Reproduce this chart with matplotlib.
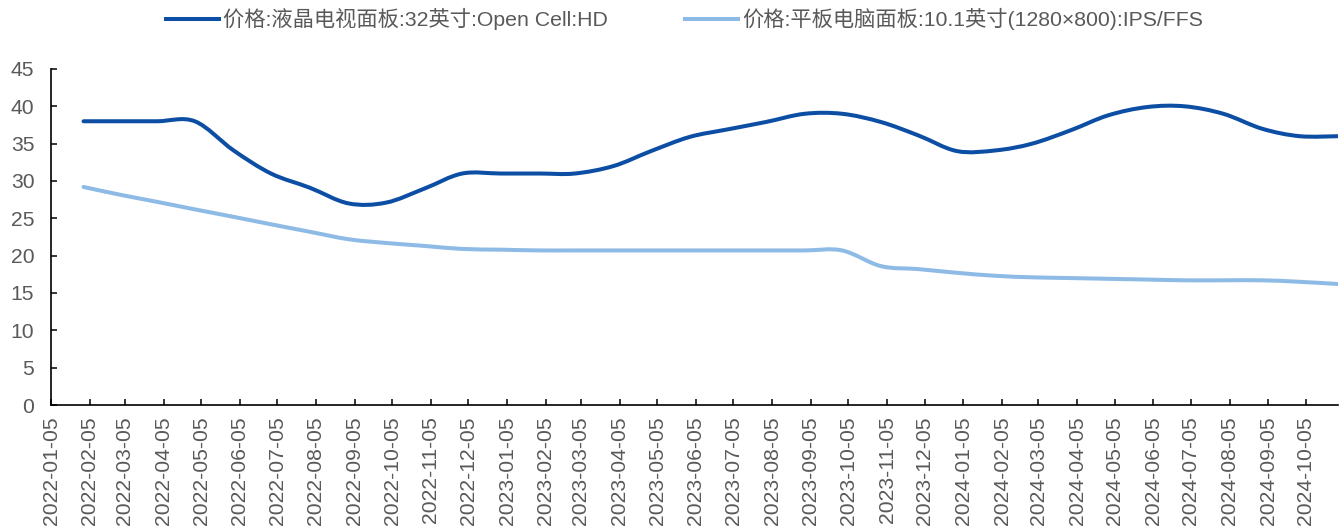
import matplotlib
matplotlib.use("Agg")
import matplotlib.pyplot as plt
import matplotlib.dates as mdates
from matplotlib.path import Path
from matplotlib.patches import PathPatch
from matplotlib.lines import Line2D
import pandas as pd

# month-end observations
dates = pd.date_range("2022-01-31", "2024-10-31", freq="ME")

tv_32 = [38.0, 38.0, 38.0, 38.0, 34.1, 31.0, 29.1, 27.0, 27.1, 29.0, 31.0, 31.0,
         31.0, 31.0, 32.0, 34.0, 35.9, 36.9, 37.9, 39.0, 39.0, 37.9, 36.1, 34.0,
         34.1, 35.0, 36.8, 38.8, 39.9, 40.0, 39.0, 37.0, 36.0, 36.0]
tablet_10 = [29.2, 28.2, 27.2, 26.2, 25.2, 24.2, 23.2, 22.2, 21.7, 21.3, 20.9, 20.8,
             20.7, 20.7, 20.7, 20.7, 20.7, 20.7, 20.7, 20.7, 20.7, 18.6, 18.2, 17.7,
             17.3, 17.1, 17.0, 16.9, 16.8, 16.7, 16.7, 16.7, 16.5, 16.2]

labels = ["价格:液晶电视面板:32英寸:Open Cell:HD",
          "价格:平板电脑面板:10.1英寸(1280×800):IPS/FFS"]
colors = ["#0c4ea3", "#8ebbe6"]

TEXT = "#595959"
FONTS = ["Liberation Sans", "Noto Sans CJK SC", "DejaVu Sans"]
plt.rcParams["font.family"] = FONTS


def smooth_path(xs, ys):
    """Catmull-Rom style cubic Bezier through the points (like Excel smoothed lines)."""
    pts = list(zip(xs, ys))
    verts = [pts[0]]
    codes = [Path.MOVETO]
    n = len(pts)
    for i in range(n - 1):
        p0 = pts[i - 1] if i > 0 else pts[i]
        p1 = pts[i]
        p2 = pts[i + 1]
        p3 = pts[i + 2] if i + 2 < n else pts[i + 1]
        c1 = (p1[0] + (p2[0] - p0[0]) / 6, p1[1] + (p2[1] - p0[1]) / 6)
        c2 = (p2[0] - (p3[0] - p1[0]) / 6, p2[1] - (p3[1] - p1[1]) / 6)
        verts += [c1, c2, p2]
        codes += [Path.CURVE4] * 3
    return Path(verts, codes)


fig = plt.figure(figsize=(13.43, 5.29), dpi=100)
ax = fig.add_axes([0.038, 0.2344, 0.9585, 0.6352])

xnum = mdates.date2num(dates)
for vals, c in zip([tv_32, tablet_10], colors):
    patch = PathPatch(smooth_path(xnum, vals), facecolor="none", edgecolor=c,
                      linewidth=2.9, capstyle="round", joinstyle="round")
    ax.add_patch(patch)

ax.set_xlim(pd.Timestamp("2022-01-05"), pd.Timestamp("2024-10-31"))
ax.set_ylim(0, 45)
ax.set_yticks(range(0, 46, 5))

ax.xaxis.set_major_locator(mdates.MonthLocator(bymonthday=5))
ax.xaxis.set_major_formatter(mdates.DateFormatter("%Y-%m-%d"))

for s in ["top", "right"]:
    ax.spines[s].set_visible(False)
for s in ["left", "bottom"]:
    ax.spines[s].set_linewidth(1.2)
    ax.spines[s].set_color("black")

ax.tick_params(axis="both", direction="in", length=4, width=1.1,
               labelsize=15.2, labelcolor=TEXT, color="black")
ax.tick_params(axis="y", pad=12)
ax.tick_params(axis="x", pad=8)
for lab in ax.get_xticklabels():
    lab.set_rotation(90)
    lab.set_ha("center")

handles = [Line2D([], [], color=c, linewidth=2.9) for c in colors]
leg = fig.legend(handles, labels, loc="center", bbox_to_anchor=(0.5095, 0.964),
                 ncol=2, frameon=False, handlelength=2.5, columnspacing=3.6,
                 handletextpad=0.2, prop={"family": FONTS, "size": 15.3})
for t in leg.get_texts():
    t.set_color(TEXT)

fig.savefig("out.png", dpi=100)
